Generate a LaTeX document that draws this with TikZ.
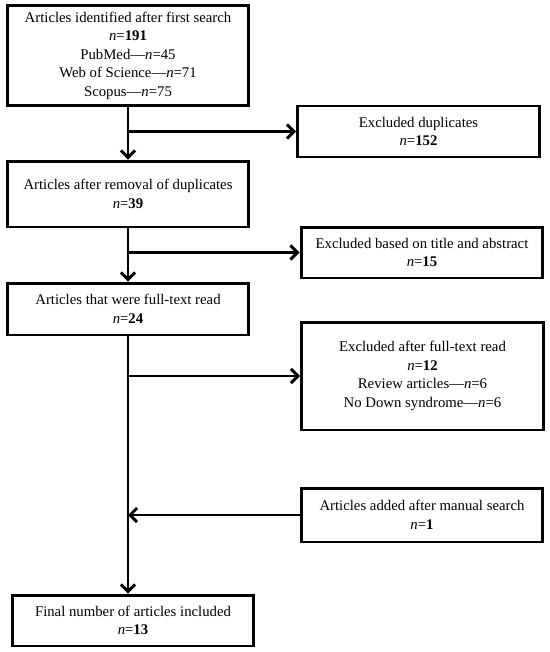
\documentclass[tikz,border=0pt]{standalone}
\usepackage{fontspec}
\setmainfont{Liberation Serif}
\usepackage{xcolor}
\usepackage{tikz}
\usetikzlibrary{arrows.meta}
\usetikzlibrary{calc}
\definecolor{black}{HTML}{000000}
\newcommand{\nn}[1]{\textit{n}=\textbf{#1}}
\newcommand{\nv}[1]{\textit{n}=#1}

\begin{document}
\begin{tikzpicture}[x=0.02cm, y=-0.02cm,
    box/.style={draw=black, line width=1.7pt, align=center, minimum width=4.84cm,
        inner sep=2pt, font=\fontsize{8.4}{10.5}\selectfont},
    flow/.style={draw=black, line width=1.7pt, -{Straight Barb[length=4pt,width=8pt]}},
    line/.style={draw=black, line width=1.7pt}]
    % Fix picture size
    \useasboundingbox (0,0) rectangle (550,652);
    % Draw boxes on the left
    \node[box, minimum height=2.02cm] (search) at (128,55.5)
        {Articles identified after first search\\ \nn{191}\\ PubMed---\nv{45}\\
         Web of Science---\nv{71}\\ Scopus---\nv{75}};
    \node[box, minimum height=1.32cm] (removal) at (128,194)
        {Articles after removal of duplicates\\ \nn{39}};
    \node[box, minimum height=1.04cm] (fulltext) at (128,309)
        {Articles that were full-text read\\ \nn{24}};
    \node[box, minimum height=1.02cm] (final) at (133,620.5)
        {Final number of articles included\\ \nn{13}};
    % Draw boxes on the right
    \node[box, minimum height=1.02cm] (duplicates) at (418.5,131.5)
        {Excluded duplicates\\ \nn{152}};
    \node[box, minimum height=1.02cm] (titleabs) at (422,252.5)
        {Excluded based on title and abstract\\ \nn{15}};
    \node[box, minimum height=2.16cm] (exclfull) at (422.5,376)
        {Excluded after full-text read\\ \nn{12}\\ Review articles---\nv{6}\\
         No Down syndrome---\nv{6}};
    \node[box, minimum height=1.08cm] (manual) at (422,515)
        {Articles added after manual search\\ \nn{1}};
    % Junctions on the main line
    \coordinate (j1) at (search.south |- duplicates.west);
    \coordinate (j2) at (removal.south |- titleabs.west);
    \coordinate (j3) at (fulltext.south |- exclfull.west);
    \coordinate (j4) at (fulltext.south |- manual.west);
    \coordinate (e4) at (fulltext.south |- final.north);
    % Draw main line
    \draw[flow] (search.south) -- (removal.north);
    \draw[flow] (removal.south) -- (fulltext.north);
    \draw[flow] (fulltext.south) -- (e4);
    % Draw side arrows
    \draw[flow] (j1) -- (duplicates.west);
    \draw[flow] (j2) -- (titleabs.west);
    \draw[flow] (j3) -- (exclfull.west);
    \draw[flow] (manual.west) -- (j4);
\end{tikzpicture}
\end{document}
